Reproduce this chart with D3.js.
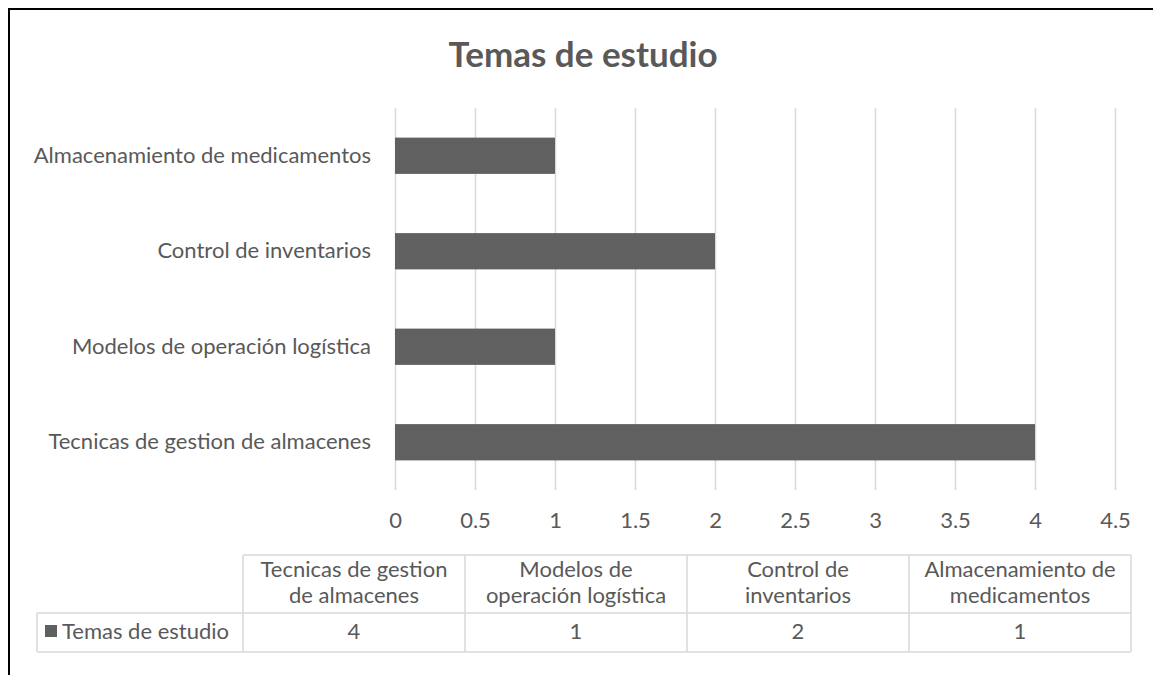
<!DOCTYPE html>
<html lang="es">
<head>
<meta charset="UTF-8">
<title>Temas de estudio</title>
<script src="https://cdn.jsdelivr.net/npm/d3@7"></script>
<style>
  body { margin: 0; background: #fff; }
  text { font-family: Lato, "Open Sans", sans-serif; fill: #595959; }
</style>
</head>
<body>
<svg width="1153" height="675"></svg>
<script>
// data
var categories = ["Tecnicas de gestion de almacenes", "Modelos de operación logística", "Control de inventarios", "Almacenamiento de medicamentos"];
var headerLines = [["Tecnicas de gestion", "de almacenes"], ["Modelos de", "operación logística"], ["Control de", "inventarios"], ["Almacenamiento de", "medicamentos"]];
var values = [4, 1, 2, 1];
var ticks = [0, 0.5, 1, 1.5, 2, 2.5, 3, 3.5, 4, 4.5];
var seriesName = "Temas de estudio";
var barColor = "#606060";
var fontSize = "22px";

var svg = d3.select("svg");

// outer border (only top and left visible)
svg.append("path")
  .attr("d", "M9,675 V9 H1153")
  .attr("fill", "none")
  .attr("stroke", "#000")
  .attr("stroke-width", 2);

// title
svg.append("text")
  .attr("x", 583)
  .attr("y", 67)
  .attr("text-anchor", "middle")
  .style("font-size", "35px")
  .style("font-weight", "bold")
  .text(seriesName);

var plot = { left: 395, right: 1115, top: 108, bottom: 490 };

var x = d3.scaleLinear().domain([0, 4.5]).range([plot.left, plot.right]);
// first category at the bottom
var y = d3.scaleBand().domain(categories).range([plot.bottom, plot.top]).paddingInner(0.62).paddingOuter(0.31);

// gridlines
svg.append("g").selectAll("line")
  .data(ticks)
  .enter().append("line")
  .attr("x1", function(d) { return Math.round(x(d)) + 0.5; })
  .attr("x2", function(d) { return Math.round(x(d)) + 0.5; })
  .attr("y1", plot.top)
  .attr("y2", plot.bottom)
  .attr("stroke", "#d9d9d9")
  .attr("stroke-width", 1.5);

// bars
svg.append("g").selectAll("rect")
  .data(values)
  .enter().append("rect")
  .attr("x", x(0))
  .attr("y", function(d, i) { return y(categories[i]); })
  .attr("width", function(d) { return x(d) - x(0); })
  .attr("height", y.bandwidth())
  .attr("fill", barColor);

// x tick labels
var xAxis = svg.append("g")
  .attr("transform", "translate(0," + (plot.bottom + 12) + ")")
  .call(d3.axisBottom(x).tickValues(ticks).tickSize(0).tickPadding(10).tickFormat(d3.format("")));
xAxis.select(".domain").remove();
xAxis.selectAll("text")
  .style("font-size", fontSize)
  .style("font-family", "Lato, sans-serif")
  .attr("fill", "#595959");

// y category labels
var yAxis = svg.append("g")
  .attr("transform", "translate(" + (plot.left - 24) + ",0)")
  .call(d3.axisLeft(y).tickSize(0).tickPadding(0));
yAxis.select(".domain").remove();
yAxis.selectAll("text")
  .style("font-size", fontSize)
  .style("font-family", "Lato, sans-serif")
  .attr("fill", "#595959");

// data table
var colEdges = [243, 1131];
var rowTop = 555, rowMid = 613, rowBot = 652, labelLeft = 37;
var col = d3.scaleBand().domain(categories).range(colEdges);
var table = svg.append("g").attr("stroke", "#d9d9d9").attr("stroke-width", 1.5).attr("fill", "none");

table.append("line").attr("x1", colEdges[0]).attr("x2", colEdges[1]).attr("y1", rowTop).attr("y2", rowTop);
table.append("line").attr("x1", labelLeft).attr("x2", colEdges[1]).attr("y1", rowMid).attr("y2", rowMid);
table.append("line").attr("x1", labelLeft).attr("x2", colEdges[1]).attr("y1", rowBot).attr("y2", rowBot);
table.append("line").attr("x1", labelLeft).attr("x2", labelLeft).attr("y1", rowMid).attr("y2", rowBot);
table.selectAll(".vline")
  .data(categories.concat(["end"]))
  .enter().append("line")
  .attr("class", "vline")
  .attr("x1", function(d, i) { return col.range()[0] + i * col.step(); })
  .attr("x2", function(d, i) { return col.range()[0] + i * col.step(); })
  .attr("y1", rowTop)
  .attr("y2", rowBot);

// header text
var heads = svg.append("g").selectAll("text")
  .data(headerLines)
  .enter().append("text")
  .attr("text-anchor", "middle")
  .style("font-size", fontSize);
heads.selectAll("tspan")
  .data(function(d, i) { return d.map(function(s) { return { s: s, i: i }; }); })
  .enter().append("tspan")
  .attr("x", function(d) { return col(categories[d.i]) + col.bandwidth() / 2; })
  .attr("y", function(d, j) { return 577 + j * 26; })
  .text(function(d) { return d.s; });

// values row
svg.append("g").selectAll("text")
  .data(values)
  .enter().append("text")
  .attr("x", function(d, i) { return col(categories[i]) + col.bandwidth() / 2; })
  .attr("y", 639)
  .attr("text-anchor", "middle")
  .style("font-size", fontSize)
  .text(function(d) { return d; });

// legend key in table
svg.append("rect")
  .attr("x", 45).attr("y", 625).attr("width", 12).attr("height", 12)
  .attr("fill", barColor);
svg.append("text")
  .attr("x", 62).attr("y", 639)
  .style("font-size", fontSize)
  .text(seriesName);
</script>
</body>
</html>
